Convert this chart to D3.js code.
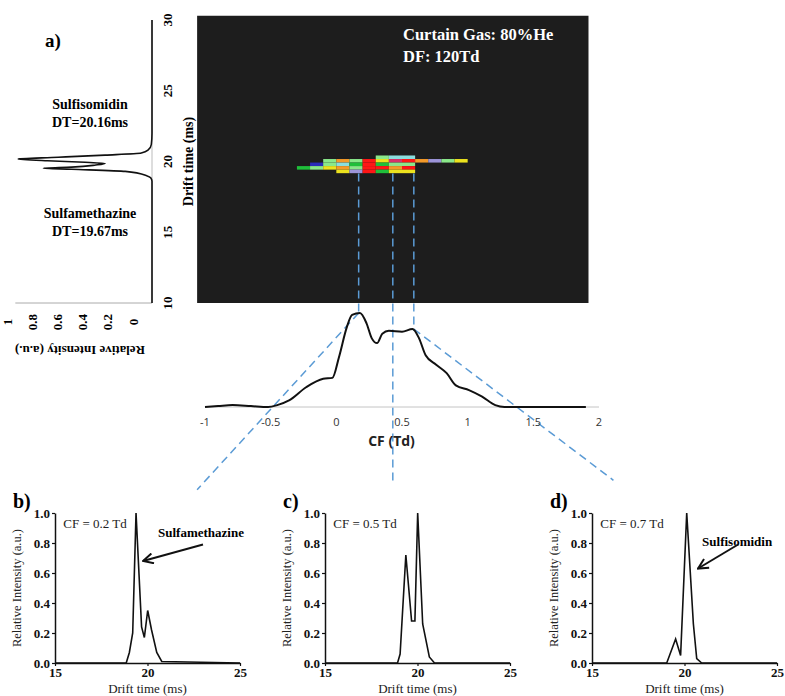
<!DOCTYPE html>
<html>
<head>
<meta charset="utf-8">
<script src="https://cdn.jsdelivr.net/npm/d3@7"></script>
<style>
body { margin: 0; background: #fff; }
svg text { font-family: "Liberation Serif", "Times New Roman", serif; }
</style>
</head>
<body>
<div id="chart"></div>
<script>
var width = 785, height = 696;

// a) projected drift time spectrum (drawn sideways on the left)
var dtLeft  = [10, 18.6, 18.85, 19.0, 19.3, 19.45, 19.52, 19.6, 19.75, 19.86, 19.95, 20.05, 20.18, 20.3, 20.45, 20.6, 20.8, 21.2, 22, 30];
var intLeft = [0, 0, 0.01, 0.04, 0.2, 0.6, 0.81, 0.6, 0.42, 0.35, 0.5, 0.78, 1.0, 0.7, 0.35, 0.08, 0.03, 0.005, 0, 0];
var dtTicks = [10, 15, 20, 25, 30];
var intTicks = [0, 0.2, 0.4, 0.6, 0.8, 1];

// a) heat map (CF x drift time), colour level per cell
var hmCF = [-0.25, -0.15, -0.05, 0.05, 0.15, 0.25, 0.35, 0.45, 0.55, 0.65, 0.75, 0.85, 0.95];
var hmDT = [20.3, 20.05, 19.8, 19.55, 19.3];
var hmLevel = [
    [0, 0, 0, 0, 0, 0, 3, 4, 4, 0, 0, 0, 0],
    [0, 0, 3, 6, 3, 9, 5, 8, 9, 6, 7, 3, 5],
    [0, 1, 3, 4, 2, 9, 2, 3, 3, 0, 0, 0, 0],
    [2, 3, 5, 6, 3, 9, 9, 6, 9, 0, 0, 0, 0],
    [0, 0, 0, 5, 7, 9, 2, 5, 5, 0, 0, 0, 0]
];
var levelColors = ["#2a2ab8", "#1fbf3a", "#8ae88a", "#8adede", "#ece21e", "#f39a2a", "#9c94d8", "#d8306a", "#ff1616"];

// CF projection
var cfVals = [-1, -0.9, -0.79, -0.65, -0.52, -0.45, -0.36, -0.23, -0.1, -0.03, 0.02, 0.08, 0.12, 0.18, 0.23, 0.27, 0.31, 0.35, 0.4, 0.5, 0.58, 0.63, 0.68, 0.76, 0.84, 0.91, 1.01, 1.11, 1.21, 1.28, 1.5, 1.9];
var cfInt  = [0, 0.01, 0.02, 0.01, 0, 0.02, 0.07, 0.21, 0.3, 0.31, 0.53, 0.85, 0.98, 1.0, 0.89, 0.73, 0.68, 0.78, 0.81, 0.8, 0.83, 0.73, 0.55, 0.45, 0.36, 0.23, 0.18, 0.11, 0.02, 0, 0, 0];
var cfTicks = [-1, -0.5, 0, 0.5, 1, 1.5, 2];
var cutCF = [0.17, 0.43, 0.59];
var cutLow = [null, -0.83, null];   // middle cut runs down to panel c)

// b) c) d) drift time spectra at fixed CF
var bDT  = [15, 18.85, 19.02, 19.2, 19.38, 19.68, 19.83, 20.01, 20.22, 20.5, 20.77, 25];
var bInt = [0, 0, 0.07, 0.2, 1.0, 0.24, 0.17, 0.35, 0.22, 0.07, 0.01, 0];
var cDT  = [15, 18.92, 19.06, 19.37, 19.68, 19.86, 20.01, 20.28, 20.64, 20.92, 25];
var cInt = [0, 0, 0.06, 0.72, 0.28, 0.28, 1.0, 0.26, 0.04, 0, 0];
var dDT  = [15, 19.04, 19.52, 19.79, 20.12, 20.48, 20.66, 20.93, 25];
var dInt = [0, 0, 0.16, 0.05, 1.0, 0.26, 0.03, 0, 0];
var panelNames = ["b)", "c)", "d)"];
var panelCF = ["CF = 0.2 Td", "CF = 0.5 Td", "CF = 0.7 Td"];
var panelX = [55, 325, 592];
var smallTicksX = [15, 20, 25];
var smallTicksY = [0, 0.2, 0.4, 0.6, 0.8, 1.0];

var svg = d3.select("#chart").append("svg")
    .attr("width", width)
    .attr("height", height);

var cf = d3.scaleLinear().domain([-1, 2]).range([205, 599]);
var dtY = d3.scaleLinear().domain([10, 30]).range([303, 20]);
var intX = d3.scaleLinear().domain([0, 1]).range([152, 18]);
var intLab = d3.scaleLinear().domain([0, 1]).range([133, 7]);
var cfY = d3.scaleLinear().domain([0, 1]).range([407, 313]);
var cfCurve = d3.scaleLinear().domain(cfVals).range(cfInt);   // piecewise lookup
var levelColor = d3.scaleOrdinal().domain(d3.range(1, 10)).range(levelColors);
var blue = "#5b9bd5";

// ---- panel a) left spectrum
svg.append("line")
    .attr("x1", intX(1.02)).attr("x2", intX(0))
    .attr("y1", dtY(10)).attr("y2", dtY(10))
    .attr("stroke", "#aaa").attr("stroke-width", 1);
svg.append("line")
    .attr("x1", intX(0)).attr("x2", intX(0))
    .attr("y1", dtY(10)).attr("y2", dtY(30))
    .attr("stroke", "#bbb").attr("stroke-width", 1);

var leftLine = d3.line()
    .x(function(d, i) { return intX(intLeft[i]); })
    .y(function(d) { return dtY(d); })
    .curve(d3.curveMonotoneY);
svg.append("path")
    .datum(dtLeft)
    .attr("d", leftLine)
    .attr("fill", "none")
    .attr("stroke", "#111")
    .attr("stroke-width", 1.6);

dtTicks.forEach(function(t) {
    svg.append("text")
        .attr("transform", "translate(167," + dtY(t) + ") rotate(-90)")
        .attr("text-anchor", "middle")
        .attr("dy", "0.35em")
        .attr("font-size", 13).attr("font-weight", "bold")
        .text(t);
});
intTicks.forEach(function(t) {
    svg.append("text")
        .attr("transform", "translate(" + intLab(t) + ",322) rotate(-90)")
        .attr("text-anchor", "middle")
        .attr("dy", "0.35em")
        .attr("font-size", 13).attr("font-weight", "bold")
        .text(t);
});
svg.append("text")
    .attr("transform", "translate(80,351) rotate(180)")
    .attr("text-anchor", "middle").attr("dy", "0.35em")
    .attr("font-size", 13).attr("font-weight", "bold")
    .text("Relative Intensity (a.u.)");
svg.append("text")
    .attr("transform", "translate(188," + dtY(20) + ") rotate(-90)")
    .attr("text-anchor", "middle").attr("dy", "0.35em")
    .attr("font-size", 14).attr("font-weight", "bold")
    .text("Drift time (ms)");

svg.append("text").attr("x", 45).attr("y", 47)
    .attr("font-size", 19).attr("font-weight", "bold").text("a)");
var peakLabels = [["Sulfisomidin", 104], ["DT=20.16ms", 122], ["Sulfamethazine", 213], ["DT=19.67ms", 231]];
peakLabels.forEach(function(p) {
    svg.append("text").attr("x", 90).attr("y", p[1]).attr("dy", "0.35em")
        .attr("text-anchor", "middle")
        .attr("font-size", 14).attr("font-weight", "bold")
        .text(p[0]);
});

// ---- heat map
svg.append("rect")
    .attr("x", cf(-1.06)).attr("y", dtY(30.3))
    .attr("width", cf(1.92) - cf(-1.06))
    .attr("height", dtY(10) - dtY(30.3))
    .attr("fill", "#1d1d1d");

var cells = [];
hmDT.forEach(function(dt, i) {
    hmCF.forEach(function(c, j) {
        if (hmLevel[i][j] > 0) cells.push({dt: dt, cf: c, lv: hmLevel[i][j]});
    });
});
svg.append("g").selectAll("rect")
    .data(cells)
    .enter().append("rect")
    .attr("x", function(d) { return cf(d.cf - 0.05); })
    .attr("y", function(d) { return dtY(d.dt + 0.125); })
    .attr("width", cf(0.1) - cf(0))
    .attr("height", dtY(0) - dtY(0.25))
    .attr("fill", function(d) { return levelColor(d.lv); });

svg.append("text").attr("x", 403).attr("y", 40)
    .attr("fill", "#fff").attr("font-size", 16.5).attr("font-weight", "bold")
    .text("Curtain Gas: 80%He");
svg.append("text").attr("x", 403).attr("y", 62)
    .attr("fill", "#fff").attr("font-size", 16.5).attr("font-weight", "bold")
    .text("DF: 120Td");

// ---- dashed guide lines
var dashes = svg.append("g")
    .attr("stroke", blue).attr("stroke-width", 1.5)
    .attr("stroke-dasharray", "8,5").attr("fill", "none");
cutCF.forEach(function(c, i) {
    var low = cutLow[i] === null ? cfCurve(c) : cutLow[i];
    dashes.append("line")
        .attr("x1", cf(c)).attr("x2", cf(c))
        .attr("y1", dtY(19.15)).attr("y2", cfY(low));
});
var diag = [[[0.17, 1.0], [-1.06, -0.88]], [[0.59, 0.83], [2.11, -0.78]]];
diag.forEach(function(d) {
    dashes.append("line")
        .attr("x1", cf(d[0][0])).attr("y1", cfY(d[0][1]))
        .attr("x2", cf(d[1][0])).attr("y2", cfY(d[1][1]));
});

// ---- CF projection
svg.append("line")
    .attr("x1", cf(-1)).attr("x2", cf(2))
    .attr("y1", cfY(0)).attr("y2", cfY(0))
    .attr("stroke", "#c4c4c4").attr("stroke-width", 1);
var cfLine = d3.line()
    .x(function(d) { return cf(d); })
    .y(function(d, i) { return cfY(cfInt[i]); })
    .curve(d3.curveMonotoneX);
svg.append("path")
    .datum(cfVals)
    .attr("d", cfLine)
    .attr("fill", "none").attr("stroke", "#111").attr("stroke-width", 2);
cfTicks.forEach(function(t) {
    svg.append("text").attr("x", cf(t)).attr("y", 422).attr("dy", "0.35em")
        .attr("text-anchor", "middle")
        .style("font-family", "'Open Sans', 'Liberation Sans', sans-serif")
        .attr("font-size", 11).attr("fill", "#333")
        .text(t);
});
svg.append("text").attr("x", cf(0.42)).attr("y", 441).attr("dy", "0.35em")
    .attr("text-anchor", "middle")
    .style("font-family", "'Open Sans', 'Liberation Sans', sans-serif")
    .attr("font-size", 14).attr("font-weight", "bold").attr("fill", "#222")
    .text("CF (Td)");

// ---- bottom panels
svg.append("defs").append("marker")
    .attr("id", "arrow")
    .attr("viewBox", "0 0 12 12")
    .attr("refX", 11).attr("refY", 6)
    .attr("markerWidth", 12).attr("markerHeight", 12)
    .attr("markerUnits", "userSpaceOnUse")
    .attr("orient", "auto")
    .append("path")
    .attr("d", "M1,1 L11,6 L1,11")
    .attr("fill", "none").attr("stroke", "#111").attr("stroke-width", 2);

var notes = [
    {name: "Sulfamethazine", at: [20.57, 0.87], from: [23.0, 0.79], to: [19.76, 0.68]},
    null,
    {name: "Sulfisomidin", at: [20.95, 0.81], from: [22.9, 0.79], to: [20.73, 0.63]}
];

function drawPanel(i, dts, ints) {
    var x0 = panelX[i];
    var x = d3.scaleLinear().domain([15, 25]).range([x0, x0 + 185]);
    var y = d3.scaleLinear().domain([0, 1]).range([663, 513]);
    var g = svg.append("g");

    var ax = g.append("g").attr("transform", "translate(0,663)")
        .call(d3.axisBottom(x).tickValues(smallTicksX).tickSize(3).tickSizeOuter(0).tickPadding(2));
    var ay = g.append("g").attr("transform", "translate(" + x0 + ",0)")
        .call(d3.axisLeft(y).tickValues(smallTicksY).tickSize(3).tickSizeOuter(0).tickPadding(2)
            .tickFormat(d3.format(".1f")));
    [ax, ay].forEach(function(a) {
        a.attr("font-family", null).attr("font-size", null);
        a.select(".domain").attr("stroke", "#111").attr("stroke-width", 1.5);
        a.selectAll("line").attr("stroke", "#111").attr("stroke-width", 1.2);
        a.selectAll("text").attr("font-size", 13).attr("font-weight", "bold").attr("fill", "#111");
    });

    var line = d3.line()
        .x(function(d) { return x(d); })
        .y(function(d, k) { return y(ints[k]); });
    g.append("path").datum(dts).attr("d", line)
        .attr("fill", "none").attr("stroke", "#111").attr("stroke-width", 1.6);

    g.append("text").attr("x", x0 - 42).attr("y", 508)
        .attr("font-size", 20).attr("font-weight", "bold").text(panelNames[i]);
    g.append("text").attr("x", x(15.45)).attr("y", y(0.93)).attr("dy", "0.35em")
        .attr("font-size", 13).attr("fill", "#222").text(panelCF[i]);
    g.append("text").attr("x", x(20)).attr("y", 688).attr("dy", "0.35em")
        .attr("text-anchor", "middle").attr("font-size", 13).attr("fill", "#222")
        .text("Drift time (ms)");
    g.append("text")
        .attr("transform", "translate(" + (x0 - 38) + "," + y(0.5) + ") rotate(-90)")
        .attr("text-anchor", "middle").attr("dy", "0.35em")
        .attr("font-size", 12.5).attr("fill", "#222")
        .text("Relative Intensity (a.u.)");

    var n = notes[i];
    if (n) {
        g.append("text").attr("x", x(n.at[0])).attr("y", y(n.at[1])).attr("dy", "0.35em")
            .attr("font-size", 13).attr("font-weight", "bold").text(n.name);
        g.append("line")
            .attr("x1", x(n.from[0])).attr("y1", y(n.from[1]))
            .attr("x2", x(n.to[0])).attr("y2", y(n.to[1]))
            .attr("stroke", "#111").attr("stroke-width", 2)
            .attr("marker-end", "url(#arrow)");
    }
}

drawPanel(0, bDT, bInt);
drawPanel(1, cDT, cInt);
drawPanel(2, dDT, dInt);
</script>
</body>
</html>
